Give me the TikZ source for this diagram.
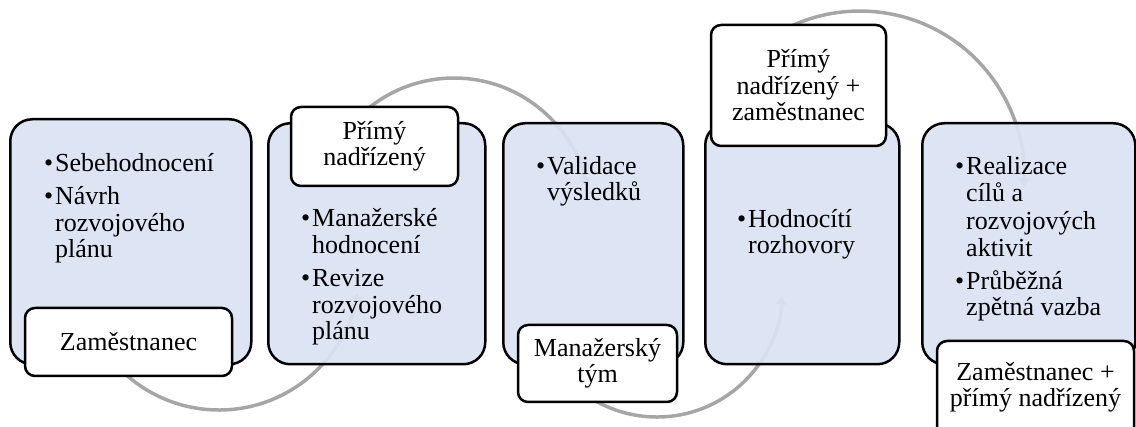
\documentclass[tikz,border=0pt]{standalone}
\usepackage{fontspec}
\setmainfont{Liberation Serif}
\usetikzlibrary{arrows.meta}
\definecolor{stagefill}{HTML}{DAE3F3}
\definecolor{flowgrey}{HTML}{A6A6A6}
\pgfdeclarelayer{background}
\pgfsetlayers{background,main}
% bullet hung to the left of the line start
\newcommand\bul{\llap{•\hspace{2pt}}}
\begin{document}
\begin{tikzpicture}[x=1pt,y=-1pt,
  stagebox/.style={draw=black, line width=2.5pt, fill=stagefill, fill opacity=0.92,
    rounded corners=22pt, anchor=north west, inner sep=0pt},
  rolebox/.style={draw=black, line width=2.5pt, fill=white, rounded corners=10pt,
    align=center, inner sep=0pt, font=\fontsize{26}{26.5}\selectfont},
  roletext/.style={align=center, inner sep=0pt, font=\fontsize{26}{26.5}\selectfont},
  bodyline/.style={anchor=base west, inner sep=0pt, font=\fontsize{26}{26.5}\selectfont},
  flow/.style={draw=flowgrey, line width=3.5pt, -{Triangle[width=11pt,length=8pt]}}
]
\useasboundingbox (0,0) rectangle (1136,427);

% stage boxes
\node[stagebox, minimum width=241pt, minimum height=245pt] (b1) at (9,118) {};
\node[stagebox, minimum width=217pt, minimum height=241pt] (b2) at (267,122) {};
\node[stagebox, minimum width=180pt, minimum height=241pt] (b3) at (502,122) {};
\node[stagebox, minimum width=194pt, minimum height=241pt] (b4) at (704,122) {};
\node[stagebox, minimum width=213pt, minimum height=241pt] (b5) at (921,122) {};

% stage 1
\node[bodyline] (t1a) at (55,171.5) {\bul Sebehodnocení};
\node[bodyline] (t1b) at (55,205)   {\bul Návrh};
\node[bodyline] (t1c) at (55,231.5) {rozvojového};
\node[bodyline] (t1d) at (55,257.5) {plánu};
% stage 2
\node[bodyline] (t2a) at (312,227)   {\bul Manažerské};
\node[bodyline] (t2b) at (312,253.5) {hodnocení};
\node[bodyline] (t2c) at (312,287)   {\bul Revize};
\node[bodyline] (t2d) at (312,313.5) {rozvojového};
\node[bodyline] (t2e) at (312,340)   {plánu};
% stage 3
\node[bodyline] (t3a) at (547,175) {\bul Validace};
\node[bodyline] (t3b) at (547,201) {výsledků};
% stage 4
\node[bodyline] (t4a) at (748,228) {\bul Hodnocítí};
\node[bodyline] (t4b) at (748,254) {rozhovory};
% stage 5
\node[bodyline] (t5a) at (966,175)   {\bul Realizace};
\node[bodyline] (t5b) at (966,202)   {cílů a};
\node[bodyline] (t5c) at (966,229.5) {rozvojových};
\node[bodyline] (t5d) at (966,256.5) {aktivit};
\node[bodyline] (t5e) at (966,290)   {\bul Průběžná};
\node[bodyline] (t5f) at (966,316)   {zpětná vazba};

% role labels
\node[rolebox, minimum width=207pt, minimum height=68pt] (r1) at (128.5,342) {Zaměstnanec};
\node[rolebox, minimum width=167pt, minimum height=79pt] (r2) at (374.5,146.5) {Přímý\\nadřízený};
\node[rolebox, minimum width=159pt, minimum height=77pt] (r3) at (597.5,363.5) {Manažerský\\tým};
\node[rolebox, minimum width=175pt, minimum height=121pt] (r4) at (798.5,85.5) {Přímý\\nadřízený +\\zaměstnanec};
\node[rolebox, minimum width=197pt, minimum height=110pt] (r5) at (1035.5,396) {};
\node[roletext] (r5t) at (1035.5,387.5) {Zaměstnanec +\\přímý nadřízený};

% flow arcs, starting behind each role label
\coordinate (s1) at (111.8,360.0);
\coordinate (s2) at (349.8,126.6);
\coordinate (s3) at (568.6,380.4);
\coordinate (s4) at (765.9,40.7);
\begin{pgfonlayer}{background}
  \draw[flow] (s1) arc[start angle=-140, end angle=-9.5, radius=140pt];
  \draw[flow] (s2) arc[start angle=140, end angle=11.5, radius=136pt];
  \draw[flow] (s3) arc[start angle=-135, end angle=-2, radius=125pt];
  \draw[flow] (s4) arc[start angle=125, end angle=-4, radius=164pt];
\end{pgfonlayer}
\end{tikzpicture}
\end{document}
